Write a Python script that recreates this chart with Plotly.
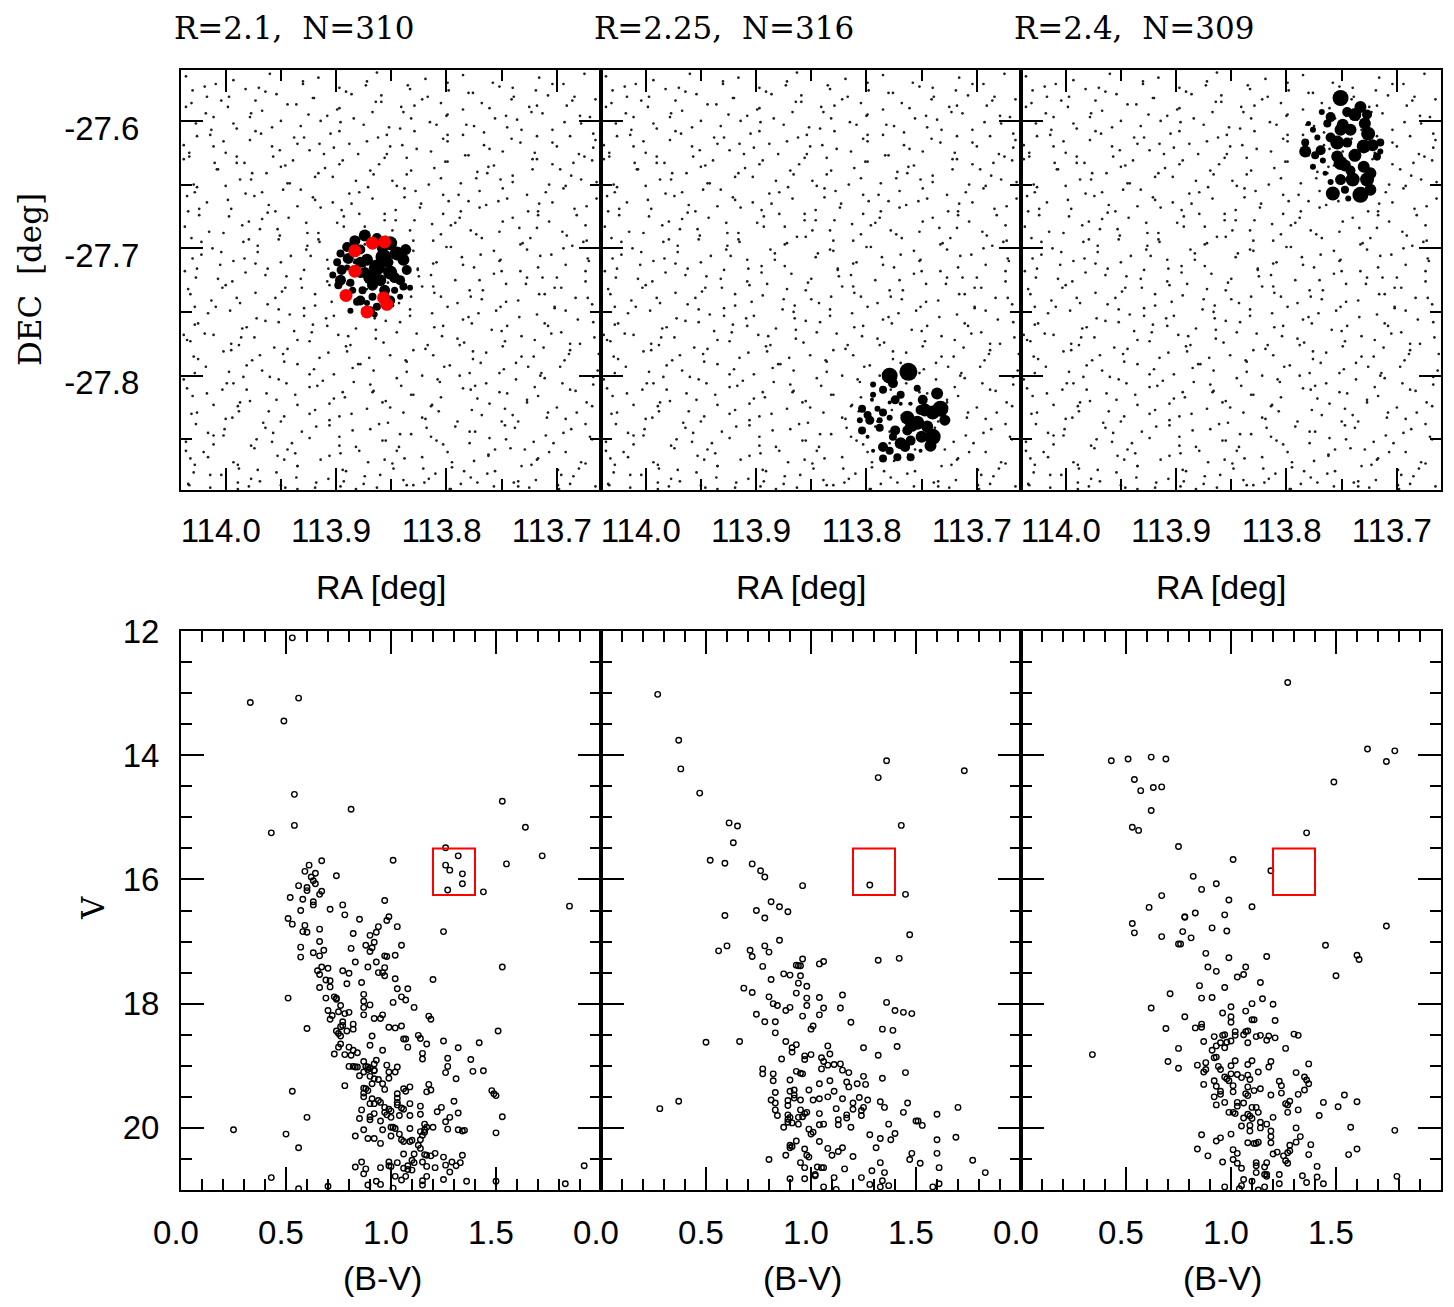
import plotly.graph_objects as go

# ---------------- data ----------------
panel_titles = ["R=2.1,  N=310", "R=2.25,  N=316", "R=2.4,  N=309"]
ra_ticks = [114.0, 113.9, 113.8, 113.7]
dec_ticks = [-27.6, -27.7, -27.8]
bv_ticks = [0.0, 0.5, 1.0, 1.5]
v_ticks = [12, 14, 16, 18, 20]
ra_range = [114.0405, 113.660]
dec_range = [-27.8898, -27.560]
bv_range = [0.0, 2.0]
v_range = [21.0, 12.0]
box_bv = [1.2, 1.4]
box_v = [15.5, 16.25]

# field stars (same field in the three top panels), rows of RA / DEC
field_ra_rows = [
 [114.036,114.019,113.993,113.982,113.960,113.930,113.916,113.897,113.872,113.863,113.835,113.819,113.798,113.785,113.758,113.740,113.716,113.704,113.675],
 [114.031,114.017,113.998,113.973,113.964,113.936,113.920,113.899,113.886,113.859,113.841,113.817,113.805,113.776,113.761,113.741,113.718,113.708,113.691,113.665],
 [114.027,114.011,113.990,113.977,113.950,113.932,113.908,113.896,113.867,113.852,113.832,113.809,113.799,113.782,113.756,113.745,113.723,113.693,113.679],
 [114.038,114.014,114.002,113.973,113.958,113.938,113.915,113.905,113.888,113.862,113.851,113.829,113.799,113.785,113.766,113.741,113.732,113.704,113.688,113.667],
 [114.033,114.010,114.000,113.983,113.957,113.946,113.924,113.894,113.880,113.861,113.836,113.827,113.799,113.783,113.762,113.749,113.722,113.704,113.680,113.668],
 [114.029,114.007,113.977,113.963,113.944,113.919,113.910,113.882,113.866,113.845,113.832,113.805,113.787,113.763,113.751,113.722,113.707,113.687,113.664],
 [114.035,114.026,113.998,113.982,113.961,113.948,113.921,113.903,113.879,113.867,113.838,113.823,113.803,113.780,113.770,113.753,113.727,113.716,113.694,113.664],
 [114.024,113.997,113.979,113.955,113.943,113.914,113.899,113.879,113.856,113.846,113.829,113.803,113.792,113.770,113.740,113.726,113.707,113.682,113.673],
 [114.037,114.022,114.002,113.979,113.969,113.952,113.926,113.915,113.893,113.863,113.849,113.830,113.805,113.796,113.768,113.752,113.731,113.718,113.691,113.673],
 [114.030,114.004,113.993,113.971,113.941,113.927,113.908,113.883,113.874,113.846,113.830,113.809,113.796,113.769,113.751,113.727,113.715,113.686,113.671],
 [114.026,114.007,113.982,113.973,113.945,113.929,113.908,113.895,113.868,113.850,113.826,113.814,113.785,113.770,113.750,113.727,113.717,113.700,113.674],
 [114.034,114.013,114.000,113.973,113.955,113.931,113.919,113.890,113.875,113.855,113.832,113.822,113.805,113.779,113.768,113.746,113.716,113.702,113.683],
 [114.028,114.016,113.987,113.972,113.952,113.929,113.919,113.902,113.876,113.865,113.843,113.813,113.799,113.780,113.755,113.746,113.718,113.702,113.681,113.668],
 [114.038,114.028,114.011,113.985,113.974,113.952,113.922,113.908,113.889,113.864,113.855,113.827,113.811,113.790,113.777,113.750,113.732,113.708,113.696,113.667],
 [114.032,114.002,113.988,113.969,113.944,113.935,113.907,113.891,113.870,113.857,113.830,113.812,113.788,113.776,113.747,113.732,113.712,113.689,113.679,113.662],
 [114.025,113.997,113.981,113.960,113.947,113.920,113.902,113.878,113.866,113.837,113.822,113.802,113.779,113.769,113.752,113.726,113.715,113.693,113.663],
 [114.035,114.017,113.993,113.981,113.952,113.937,113.917,113.894,113.884,113.867,113.841,113.830,113.808,113.778,113.764,113.745,113.720,113.711,113.683,113.667],
 [114.031,114.011,113.988,113.978,113.961,113.935,113.924,113.902,113.872,113.858,113.839,113.814,113.805,113.777,113.761,113.740,113.727,113.700,113.682],
 [114.027,114.016,113.994,113.964,113.950,113.931,113.906,113.897,113.869,113.853,113.832,113.819,113.792,113.774,113.750,113.738,113.709,113.694,113.674],
 [114.036,114.011,114.002,113.974,113.958,113.937,113.924,113.897,113.879,113.855,113.843,113.814,113.799,113.779,113.756,113.746,113.729,113.703,113.692,113.670],
 [114.029,114.016,113.989,113.971,113.947,113.935,113.906,113.891,113.871,113.848,113.838,113.821,113.795,113.784,113.762,113.732,113.718,113.699,113.674],
 [114.033,114.004,113.989,113.969,113.946,113.936,113.919,113.893,113.882,113.860,113.830,113.816,113.797,113.772,113.763,113.735,113.719,113.698,113.685],
 [114.030,114.009,113.997,113.970,113.954,113.930,113.921,113.891,113.873,113.859,113.833,113.822,113.799,113.780,113.752,113.739,113.719,113.694,113.684],
 [114.036,114.018,114.004,113.978,113.967,113.944,113.925,113.897,113.884,113.864,113.839,113.829,113.800,113.785,113.768,113.746,113.725,113.713,113.686,113.670],
 [114.026,114.013,113.993,113.968,113.958,113.929,113.914,113.897,113.875,113.854,113.842,113.815,113.799,113.775,113.766,113.736,113.718,113.704,113.678,113.667],
 [114.033,114.011,113.990,113.978,113.951,113.935,113.911,113.902,113.872,113.854,113.840,113.814,113.803,113.780,113.761,113.733,113.720,113.700,113.675,113.665],
 [114.038,114.008,113.990,113.976,113.950,113.939,113.916,113.897,113.869,113.856,113.836,113.811,113.801,113.772,113.757,113.740,113.718,113.697,113.685],
 [114.028,114.000,113.987,113.967,113.942,113.932,113.903,113.888,113.871,113.849,113.828,113.816,113.789,113.773,113.749,113.740,113.710,113.692,113.678],
 [114.034,114.017,113.995,113.974,113.962,113.935,113.919,113.895,113.886,113.856,113.838,113.824,113.798,113.787,113.764,113.745,113.717,113.704,113.684],
 [114.024,114.015,113.985,113.967,113.953,113.927,113.916,113.893,113.874,113.846,113.833,113.813,113.788,113.778,113.749,113.734,113.717,113.695,113.674],
 [114.031,114.012,113.984,113.971,113.951,113.926,113.916,113.887,113.872,113.855,113.833,113.812,113.800,113.773,113.757,113.733,113.724,113.694,113.676],
 [114.037,114.022,114.005,113.983,113.962,113.950,113.923,113.907,113.883,113.874,113.844,113.826,113.812,113.786,113.775,113.752,113.733,113.705,113.692,113.672],
 [114.027,114.003,113.994,113.964,113.946,113.932,113.906,113.895,113.872,113.853,113.825,113.812,113.792,113.767,113.757,113.728,113.713,113.696,113.674],
 [114.032,114.009,113.990,113.962,113.949,113.929,113.904,113.894,113.865,113.850,113.833,113.811,113.790,113.778,113.751,113.735,113.711,113.702,113.672],
 [114.025,113.996,113.981,113.964,113.942,113.921,113.909,113.882,113.866,113.842,113.833,113.803,113.785,113.771,113.745,113.734,113.711,113.692],
 [114.035,114.019,113.995,113.986,113.956,113.938,113.924,113.898,113.887,113.864,113.845,113.817,113.804,113.784,113.759,113.749,113.720,113.705,113.688,113.666],
 [114.029,114.018,113.995,113.976,113.948,113.935,113.915,113.890,113.880,113.851,113.836,113.819,113.797,113.776,113.764,113.737,113.721,113.697,113.688],
 [114.038,114.028,113.999,113.984,113.967,113.945,113.924,113.912,113.885,113.869,113.845,113.836,113.806,113.788,113.774,113.748,113.737,113.714,113.695,113.667],
 [114.030,114.003,113.987,113.963,113.954,113.924,113.906,113.892,113.866,113.855,113.832,113.813,113.785,113.772,113.752,113.727,113.717,113.688,113.673],
 [114.026,114.000,113.989,113.966,113.947,113.919,113.906,113.886,113.861,113.851,113.822,113.807,113.790,113.768,113.747,113.735,113.708,113.692,113.668],
 [114.036,114.011,114.001,113.972,113.957,113.940,113.918,113.897,113.885,113.858,113.842,113.818,113.809,113.779,113.761,113.747,113.721,113.710,113.687,113.668],
 [114.032,114.020,113.993,113.977,113.953,113.944,113.914,113.896,113.882,113.856,113.845,113.822,113.803,113.775,113.762,113.742,113.717,113.707,113.678],
 [114.028,114.014,113.988,113.977,113.954,113.935,113.907,113.894,113.874,113.849,113.839,113.810,113.795,113.778,113.756,113.735,113.723,113.696,113.680],
 [114.034,114.014,113.989,113.979,113.950,113.935,113.918,113.896,113.875,113.863,113.836,113.820,113.796,113.787,113.757,113.739,113.725,113.699,113.688,113.665],
]
field_dec_rows = [
 [-27.565,-27.573,-27.568,-27.575,-27.563,-27.571,-27.566,-27.574,-27.569,-27.562,-27.572,-27.567,-27.576,-27.564,-27.570,-27.574,-27.566,-27.571,-27.563],
 [-27.586,-27.581,-27.589,-27.584,-27.577,-27.587,-27.582,-27.591,-27.579,-27.585,-27.589,-27.581,-27.586,-27.578,-27.590,-27.583,-27.588,-27.580,-27.588,-27.583],
 [-27.602,-27.597,-27.606,-27.594,-27.600,-27.604,-27.596,-27.601,-27.593,-27.605,-27.598,-27.603,-27.595,-27.603,-27.598,-27.605,-27.593,-27.601,-27.596],
 [-27.619,-27.611,-27.616,-27.608,-27.620,-27.613,-27.618,-27.610,-27.618,-27.613,-27.620,-27.608,-27.616,-27.611,-27.619,-27.614,-27.607,-27.617,-27.612,-27.621],
 [-27.628,-27.633,-27.625,-27.633,-27.628,-27.635,-27.623,-27.631,-27.626,-27.634,-27.629,-27.622,-27.632,-27.627,-27.636,-27.624,-27.630,-27.634,-27.626,-27.631],
 [-27.650,-27.638,-27.646,-27.641,-27.649,-27.644,-27.637,-27.647,-27.642,-27.651,-27.639,-27.645,-27.649,-27.641,-27.646,-27.638,-27.650,-27.643,-27.648],
 [-27.659,-27.652,-27.662,-27.657,-27.666,-27.654,-27.660,-27.664,-27.656,-27.661,-27.653,-27.665,-27.658,-27.663,-27.655,-27.663,-27.658,-27.665,-27.653,-27.661],
 [-27.669,-27.675,-27.679,-27.671,-27.676,-27.668,-27.680,-27.673,-27.678,-27.670,-27.678,-27.673,-27.680,-27.668,-27.676,-27.671,-27.679,-27.674,-27.667],
 [-27.683,-27.695,-27.688,-27.693,-27.685,-27.693,-27.688,-27.695,-27.683,-27.691,-27.686,-27.694,-27.689,-27.682,-27.692,-27.687,-27.696,-27.684,-27.690,-27.694],
 [-27.708,-27.703,-27.710,-27.698,-27.706,-27.701,-27.709,-27.704,-27.697,-27.707,-27.702,-27.711,-27.699,-27.705,-27.709,-27.701,-27.706,-27.698,-27.710],
 [-27.716,-27.724,-27.719,-27.712,-27.722,-27.717,-27.726,-27.714,-27.720,-27.724,-27.716,-27.721,-27.713,-27.725,-27.718,-27.723,-27.715,-27.723,-27.718],
 [-27.732,-27.741,-27.729,-27.735,-27.739,-27.731,-27.736,-27.728,-27.740,-27.733,-27.738,-27.730,-27.738,-27.733,-27.740,-27.728,-27.736,-27.731,-27.739],
 [-27.746,-27.751,-27.743,-27.755,-27.748,-27.753,-27.745,-27.753,-27.748,-27.755,-27.743,-27.751,-27.746,-27.754,-27.749,-27.742,-27.752,-27.747,-27.756,-27.744],
 [-27.768,-27.760,-27.768,-27.763,-27.770,-27.758,-27.766,-27.761,-27.769,-27.764,-27.757,-27.767,-27.762,-27.771,-27.759,-27.765,-27.769,-27.761,-27.766,-27.758],
 [-27.773,-27.781,-27.776,-27.784,-27.779,-27.772,-27.782,-27.777,-27.786,-27.774,-27.780,-27.784,-27.776,-27.781,-27.773,-27.785,-27.778,-27.783,-27.775,-27.783],
 [-27.787,-27.797,-27.792,-27.801,-27.789,-27.795,-27.799,-27.791,-27.796,-27.788,-27.800,-27.793,-27.798,-27.790,-27.798,-27.793,-27.800,-27.788,-27.796],
 [-27.810,-27.814,-27.806,-27.811,-27.803,-27.815,-27.808,-27.813,-27.805,-27.813,-27.808,-27.815,-27.803,-27.811,-27.806,-27.814,-27.809,-27.802,-27.812,-27.807],
 [-27.830,-27.823,-27.828,-27.820,-27.828,-27.823,-27.830,-27.818,-27.826,-27.821,-27.829,-27.824,-27.817,-27.827,-27.822,-27.831,-27.819,-27.825,-27.829],
 [-27.838,-27.845,-27.833,-27.841,-27.836,-27.844,-27.839,-27.832,-27.842,-27.837,-27.846,-27.834,-27.840,-27.844,-27.836,-27.841,-27.833,-27.845,-27.838],
 [-27.859,-27.854,-27.847,-27.857,-27.852,-27.861,-27.849,-27.855,-27.859,-27.851,-27.856,-27.848,-27.860,-27.853,-27.858,-27.850,-27.858,-27.853,-27.860,-27.848],
 [-27.876,-27.864,-27.870,-27.874,-27.866,-27.871,-27.863,-27.875,-27.868,-27.873,-27.865,-27.873,-27.868,-27.875,-27.863,-27.871,-27.866,-27.874,-27.869],
 [-27.886,-27.878,-27.889,-27.883,-27.888,-27.880,-27.888,-27.883,-27.889,-27.878,-27.886,-27.881,-27.889,-27.884,-27.877,-27.887,-27.882,-27.889,-27.879],
 [-27.576,-27.571,-27.581,-27.574,-27.579,-27.569,-27.582,-27.577,-27.572,-27.580,-27.575,-27.583,-27.570,-27.578,-27.573,-27.581,-27.576,-27.571,-27.581],
 [-27.589,-27.594,-27.584,-27.597,-27.592,-27.587,-27.595,-27.590,-27.598,-27.585,-27.593,-27.588,-27.596,-27.591,-27.586,-27.596,-27.589,-27.594,-27.584,-27.597],
 [-27.612,-27.607,-27.602,-27.610,-27.605,-27.613,-27.600,-27.608,-27.603,-27.611,-27.606,-27.601,-27.611,-27.604,-27.609,-27.599,-27.612,-27.607,-27.602,-27.610],
 [-27.625,-27.620,-27.628,-27.615,-27.623,-27.618,-27.626,-27.621,-27.616,-27.626,-27.619,-27.624,-27.614,-27.627,-27.622,-27.617,-27.625,-27.620,-27.628,-27.615],
 [-27.630,-27.638,-27.633,-27.641,-27.636,-27.631,-27.641,-27.634,-27.639,-27.629,-27.642,-27.637,-27.632,-27.640,-27.635,-27.643,-27.630,-27.638,-27.633],
 [-27.656,-27.651,-27.646,-27.656,-27.649,-27.654,-27.644,-27.657,-27.652,-27.647,-27.655,-27.650,-27.658,-27.645,-27.653,-27.648,-27.656,-27.651,-27.646],
 [-27.671,-27.664,-27.669,-27.659,-27.672,-27.667,-27.662,-27.670,-27.665,-27.673,-27.660,-27.668,-27.663,-27.671,-27.666,-27.661,-27.671,-27.664,-27.669],
 [-27.674,-27.687,-27.682,-27.677,-27.685,-27.680,-27.688,-27.675,-27.683,-27.678,-27.686,-27.681,-27.676,-27.686,-27.679,-27.684,-27.674,-27.687,-27.682],
 [-27.692,-27.700,-27.695,-27.703,-27.690,-27.698,-27.693,-27.701,-27.696,-27.691,-27.701,-27.694,-27.699,-27.689,-27.702,-27.697,-27.692,-27.700,-27.695],
 [-27.718,-27.705,-27.713,-27.708,-27.716,-27.711,-27.706,-27.716,-27.709,-27.714,-27.704,-27.717,-27.712,-27.707,-27.715,-27.710,-27.718,-27.705,-27.713,-27.708],
 [-27.723,-27.731,-27.726,-27.721,-27.731,-27.724,-27.729,-27.719,-27.732,-27.727,-27.722,-27.730,-27.725,-27.733,-27.720,-27.728,-27.723,-27.731,-27.726],
 [-27.736,-27.746,-27.739,-27.744,-27.734,-27.747,-27.742,-27.737,-27.745,-27.740,-27.748,-27.735,-27.743,-27.738,-27.746,-27.741,-27.736,-27.746,-27.739],
 [-27.759,-27.749,-27.762,-27.757,-27.752,-27.760,-27.755,-27.763,-27.750,-27.758,-27.753,-27.761,-27.756,-27.751,-27.761,-27.754,-27.759,-27.749],
 [-27.772,-27.767,-27.775,-27.770,-27.778,-27.765,-27.773,-27.768,-27.776,-27.771,-27.766,-27.776,-27.769,-27.774,-27.764,-27.777,-27.772,-27.767,-27.775,-27.770],
 [-27.785,-27.793,-27.780,-27.788,-27.783,-27.791,-27.786,-27.781,-27.791,-27.784,-27.789,-27.779,-27.792,-27.787,-27.782,-27.790,-27.785,-27.793,-27.780],
 [-27.803,-27.798,-27.806,-27.801,-27.796,-27.806,-27.799,-27.804,-27.794,-27.807,-27.802,-27.797,-27.805,-27.800,-27.808,-27.795,-27.803,-27.798,-27.806,-27.801],
 [-27.816,-27.811,-27.821,-27.814,-27.819,-27.809,-27.822,-27.817,-27.812,-27.820,-27.815,-27.823,-27.810,-27.818,-27.813,-27.821,-27.816,-27.811,-27.821],
 [-27.829,-27.834,-27.824,-27.837,-27.832,-27.827,-27.835,-27.830,-27.838,-27.825,-27.833,-27.828,-27.836,-27.831,-27.826,-27.836,-27.829,-27.834,-27.824],
 [-27.852,-27.847,-27.842,-27.850,-27.845,-27.853,-27.840,-27.848,-27.843,-27.851,-27.846,-27.841,-27.851,-27.844,-27.849,-27.839,-27.852,-27.847,-27.842,-27.850],
 [-27.865,-27.860,-27.868,-27.855,-27.863,-27.858,-27.866,-27.861,-27.856,-27.866,-27.859,-27.864,-27.854,-27.867,-27.862,-27.857,-27.865,-27.860,-27.868],
 [-27.870,-27.878,-27.873,-27.881,-27.876,-27.871,-27.881,-27.874,-27.879,-27.869,-27.882,-27.877,-27.872,-27.880,-27.875,-27.883,-27.870,-27.878,-27.873],
 [-27.885,-27.888,-27.884,-27.887,-27.886,-27.889,-27.884,-27.887,-27.885,-27.888,-27.886,-27.884,-27.889,-27.885,-27.887,-27.884,-27.888,-27.886,-27.885,-27.887],
]

# cluster members: (RA, DEC, V magnitude)
cluster1 = [
 (113.874,-27.690,15.5),(113.863,-27.692,16.5),(113.851,-27.696,14.5),(113.845,-27.704,14.5),
 (113.839,-27.709,15.5),(113.836,-27.717,16.5),(113.842,-27.725,16.5),(113.839,-27.730,17.5),
 (113.857,-27.707,13.5),(113.863,-27.715,13.5),(113.872,-27.709,15.5),(113.869,-27.723,14.5),
 (113.860,-27.725,15.5),(113.851,-27.719,14.5),(113.878,-27.701,16.5),(113.890,-27.699,16.5),
 (113.896,-27.704,17.5),(113.899,-27.711,17.5),(113.895,-27.717,16.5),(113.903,-27.721,18.0),
 (113.898,-27.729,17.5),(113.887,-27.727,17.5),(113.885,-27.733,18.0),(113.876,-27.733,17.5),
 (113.881,-27.742,17.5),(113.867,-27.738,17.5),(113.863,-27.746,17.5),(113.872,-27.743,18.5),
 (113.865,-27.752,18.5),(113.887,-27.749,18.5),(113.890,-27.715,18.5),(113.878,-27.721,18.5),
 (113.842,-27.738,18.5),(113.833,-27.731,18.5),(113.847,-27.733,18.0),(113.856,-27.717,19.5),
 (113.883,-27.711,19.5),(113.849,-27.745,19.5),
 (113.883,-27.694,16.0),(113.853,-27.711,16.0),(113.847,-27.723,16.0),(113.867,-27.729,16.0),
 (113.878,-27.711,16.0),(113.889,-27.708,16.0),(113.856,-27.733,16.0),(113.874,-27.719,16.0),
 (113.858,-27.700,16.0),(113.837,-27.701,16.0),(113.896,-27.725,16.0),(113.878,-27.741,16.5),
 (113.851,-27.741,16.5),(113.869,-27.749,17.0),
]
red_clump1 = [
 (113.883,-27.702),(113.867,-27.696),(113.856,-27.695),(113.883,-27.718),
 (113.891,-27.737),(113.857,-27.739),(113.854,-27.744),(113.872,-27.750),
]
cluster2 = [
 (113.779,-27.800,13.5),(113.762,-27.797,12.5),(113.776,-27.806,16.5),(113.794,-27.807,18.5),
 (113.785,-27.811,17.5),(113.769,-27.815,17.5),(113.754,-27.810,18.0),(113.794,-27.815,18.5),
 (113.736,-27.814,15.5),(113.749,-27.819,16.5),(113.733,-27.826,13.5),(113.740,-27.829,14.5),
 (113.751,-27.827,16.5),(113.763,-27.833,14.5),(113.754,-27.837,14.5),(113.745,-27.840,15.5),
 (113.740,-27.848,13.5),(113.750,-27.848,15.5),(113.763,-27.843,16.5),(113.804,-27.826,17.5),
 (113.799,-27.831,17.5),(113.806,-27.835,18.5),(113.790,-27.826,18.5),(113.785,-27.829,17.5),
 (113.779,-27.833,18.5),(113.788,-27.835,18.5),(113.804,-27.843,17.5),(113.788,-27.841,17.5),
 (113.776,-27.848,17.5),(113.769,-27.853,15.5),(113.760,-27.851,16.5),(113.785,-27.856,16.5),
 (113.779,-27.859,17.5),(113.785,-27.865,17.5),(113.772,-27.864,17.5),(113.760,-27.864,17.5),
 (113.779,-27.821,19.5),(113.769,-27.822,19.5),(113.760,-27.822,19.5),(113.795,-27.819,19.5),
 (113.799,-27.848,19.5),(113.794,-27.859,19.5),(113.751,-27.859,19.5),
 (113.747,-27.827,15.0),(113.759,-27.839,15.0),(113.742,-27.855,15.5),(113.774,-27.819,17.0),
 (113.797,-27.835,17.0),(113.774,-27.843,16.5),(113.765,-27.856,16.5),(113.729,-27.835,16.0),
]
cluster3 = [
 (113.751,-27.582,13.5),(113.733,-27.589,15.5),(113.727,-27.595,16.5),(113.745,-27.593,16.5),
 (113.760,-27.597,16.5),(113.768,-27.593,18.5),(113.763,-27.602,17.5),(113.749,-27.603,15.5),
 (113.742,-27.607,15.5),(113.729,-27.602,15.5),(113.726,-27.610,14.5),(113.730,-27.620,14.5),
 (113.715,-27.617,17.5),(113.776,-27.607,18.5),(113.780,-27.602,19.0),(113.783,-27.617,17.5),
 (113.772,-27.613,18.5),(113.760,-27.613,16.5),(113.754,-27.617,14.5),(113.745,-27.617,16.5),
 (113.754,-27.628,15.5),(113.783,-27.624,15.5),(113.774,-27.627,17.5),(113.767,-27.631,18.5),
 (113.751,-27.633,14.5),(113.742,-27.639,16.5),(113.730,-27.636,15.5),(113.724,-27.641,15.5),
 (113.740,-27.646,14.5),(113.727,-27.646,14.5),(113.758,-27.657,14.5),(113.733,-27.658,13.5),
 (113.747,-27.654,17.5),(113.776,-27.636,18.5),(113.765,-27.641,19.0),(113.760,-27.648,18.5),
 (113.744,-27.661,18.5),(113.718,-27.628,17.5),(113.715,-27.624,18.5),
 (113.738,-27.595,15.0),(113.751,-27.607,15.5),(113.738,-27.627,15.0),(113.747,-27.635,15.5),
 (113.769,-27.623,16.5),(113.724,-27.654,15.5),(113.751,-27.646,16.0),(113.722,-27.619,15.5),
]

# colour-magnitude diagrams: (B-V, V)
cmd1 = [
 (0.53,12.11),(0.33,13.15),(0.56,13.08),(0.49,13.45),(0.54,14.63),(0.81,14.87),(0.54,15.13),(0.43,15.25),(1.53,14.74),(1.64,15.16),(1.72,15.62),(1.55,15.75),(1.85,16.43),(1.44,16.20),(1.01,15.69),(1.26,15.49),(1.32,15.62),(1.26,15.77),(1.28,15.85),(1.34,15.91),(1.34,16.07),(1.27,16.17),(1.25,16.84),(1.53,17.41),(1.20,17.61),
 (0.67,15.70),(0.61,15.77),(0.59,15.87),(0.64,15.90),(0.62,15.96),(0.63,16.02),(0.64,16.07),(0.74,15.94),(0.56,16.10),(0.60,16.13),(0.60,16.18),(0.67,16.19),(0.66,16.24),(0.52,16.29),(0.58,16.32),(0.63,16.36),(0.63,16.41),(0.57,16.50),(0.71,16.48),(0.77,16.41),(0.78,16.57),(0.51,16.63),(0.53,16.72),(0.59,16.74),(0.58,16.84),(0.60,16.85),(0.66,16.80),(0.66,17.00),(0.57,17.09),(0.63,17.18),(0.68,17.14),(0.57,17.25),(0.66,17.23),(0.65,17.47),(0.66,17.53),(0.67,17.41),(0.70,17.43),(0.69,17.62),(0.71,17.63),(0.71,17.73),(0.66,17.74),(0.51,17.91),(0.60,18.40),
 (0.97,16.34),(0.99,16.60),(0.98,16.66),(0.85,16.64),(0.94,16.76),(1.03,16.76),(0.82,16.87),(0.93,16.85),(0.90,16.90),(0.92,17.01),(0.88,17.06),(0.91,17.10),(0.90,17.16),(1.05,17.06),(0.81,17.11),(0.97,17.23),(0.98,17.24),(1.02,17.22),(0.83,17.33),(0.93,17.33),(0.89,17.41),(0.77,17.47),(0.80,17.51),(0.94,17.50),(0.96,17.50),(0.97,17.42),(0.97,17.55),(1.02,17.60),(1.08,17.76),(1.03,17.76),(0.86,17.66),(0.79,17.68),(0.87,17.85),(1.05,17.89),(1.07,17.94),(0.87,17.96),(0.90,18.02),(0.87,18.06),(1.01,17.98),(1.11,18.06),(0.69,17.91),(0.73,17.89),(0.74,17.91),(0.74,17.93),(0.70,18.11),(0.76,18.03),(0.75,18.13),(0.78,18.16),(0.80,18.14),(0.87,18.18),(0.72,18.19),(0.71,18.25),(0.77,18.29),(0.77,18.35),(0.76,18.37),(0.82,18.33),(0.82,18.41),(0.92,18.24),(0.95,18.24),(0.96,18.18),(1.18,18.20),(1.19,18.25),(0.99,18.38),(1.02,18.39),(1.05,18.36),(0.79,18.44),(0.74,18.44),(0.75,18.48),(0.76,18.52),
 (0.91,18.52),(1.06,18.57),(1.07,18.57),(1.13,18.51),(1.14,18.56),(1.17,18.65),(1.25,18.60),(1.32,18.71),(1.42,18.63),(1.51,18.44),(0.76,18.65),(0.75,18.70),(0.80,18.70),(0.73,18.81),(0.78,18.82),(0.82,18.75),(0.81,18.83),(0.84,18.79),(0.90,18.67),(0.96,18.75),(1.08,18.70),(1.15,18.80),(1.15,18.89),(1.27,18.88),(1.38,18.90),(1.27,19.01),(1.44,19.08),(1.39,19.09),(1.26,19.11),(1.31,19.21),(0.87,18.93),(0.93,18.91),(0.92,18.97),(0.80,19.01),(0.82,19.01),(0.83,19.02),(0.84,19.02),(0.88,19.01),(0.89,19.02),(0.90,19.04),(0.89,19.06),(0.87,19.10),(0.92,19.08),(0.92,19.07),(0.85,19.16),(0.98,18.99),(1.03,19.02),(0.99,19.10),(1.02,19.10),(0.90,19.17),(0.92,19.21),(0.94,19.22),(0.99,19.20),(0.78,19.32),(0.91,19.29),(0.96,19.29),(0.87,19.36),(0.88,19.37),(0.89,19.40),(0.97,19.38),(1.06,19.37),(1.09,19.34),(1.07,19.41),(1.18,19.30),(1.19,19.39),(1.17,19.42),(1.03,19.45),(1.03,19.52),(0.87,19.44),(0.87,19.50),(0.91,19.53),(0.94,19.56),(0.95,19.59),(0.90,19.61),(0.92,19.61),(1.03,19.59),(1.03,19.63),(0.97,19.67),(0.99,19.70),(1.00,19.73),(0.86,19.71),(0.85,19.85),(0.90,19.82),(0.90,19.87),(0.92,19.77),(0.97,19.75),(0.98,19.79),(1.04,19.80),(1.00,19.83),(0.95,19.89),(1.05,19.68),(1.06,19.70),(1.09,19.61),(1.09,19.80),(1.14,19.65),(1.14,19.78),(1.22,19.74),(1.24,19.67),(1.30,19.57),(1.32,19.76),(1.28,19.83),(1.26,19.90),(1.53,19.82),(1.48,19.40),(1.49,19.45),(1.50,19.48),
 (1.00,19.99),(1.01,19.99),(1.02,20.01),(0.87,20.03),(0.96,20.03),(1.09,20.01),(1.16,19.94),(1.17,19.99),(1.16,20.03),(1.14,20.06),(1.16,20.07),(1.15,20.12),(1.20,19.99),(1.27,20.02),(1.32,20.03),(1.34,20.05),(1.35,20.04),(1.50,20.08),(0.83,20.13),(0.89,20.17),(0.92,20.17),(0.95,20.25),(1.00,20.13),(1.04,20.10),(1.05,20.19),(1.06,20.22),(1.09,20.22),(1.10,20.20),(1.14,20.19),(1.13,20.28),(1.14,20.33),(0.25,20.03),(0.50,20.10),(0.56,20.32),(0.53,19.41),(0.60,19.83),
 (1.06,20.42),(1.11,20.42),(1.16,20.43),(1.17,20.44),(1.19,20.45),(1.21,20.41),(1.10,20.52),(1.25,20.47),(1.34,20.44),(1.33,20.56),(1.29,20.55),(1.31,20.61),(1.26,20.60),(0.86,20.55),(0.83,20.63),(0.88,20.66),(0.87,20.74),(0.95,20.64),(0.99,20.55),(0.99,20.61),(1.00,20.62),(1.03,20.56),(1.06,20.65),(1.08,20.61),(1.08,20.67),(1.11,20.56),(1.15,20.55),(1.17,20.62),(1.21,20.64),(1.28,20.71),(1.92,20.61),(0.43,20.80),(0.56,20.98),(0.70,20.94),(0.89,20.92),(0.93,20.86),(0.95,20.91),(1.02,20.78),(1.05,20.84),(1.07,20.78),(1.10,20.68),(1.15,20.85),(1.15,20.92),(1.17,20.78),(1.25,20.83),(1.36,20.86),(1.50,20.86),(1.83,20.90),(1.01,20.97),
]
cmd2 = [
 (0.27,13.02),(0.37,13.76),(0.38,14.22),(0.47,14.61),(0.61,15.09),(0.65,15.14),(0.63,15.41),(0.52,15.69),(0.59,15.74),(0.72,15.75),(0.76,15.86),(0.78,15.96),(0.96,16.10),(1.36,14.09),(1.32,14.36),(1.73,14.25),(1.43,15.13),(1.28,16.09),(1.45,16.24),(1.47,16.89),(1.32,17.30),(1.42,17.27),(0.81,16.36),(0.85,16.44),(0.89,16.52),(0.74,16.50),(0.59,16.58),(0.78,16.62),(0.85,16.98),(0.60,17.07),(0.56,17.15),(0.71,17.14),(0.72,17.24),(0.78,17.07),(0.80,17.17),(0.77,17.40),(0.96,17.28),(0.93,17.38),(0.94,17.39),(0.95,17.39),(0.95,17.55),(0.87,17.52),(0.90,17.54),(1.04,17.36),(1.06,17.32),(0.81,17.61),(0.94,17.67),(0.98,17.72),(0.68,17.75),(0.72,17.82),(0.93,17.83),(0.80,17.89),(0.82,18.00),(0.84,18.03),(0.98,17.91),(1.04,17.90),(1.15,17.86),(0.90,18.06),(0.88,18.11),(0.98,18.03),(1.06,18.07),(1.14,18.07),(0.96,18.20),(1.04,18.18),(0.74,18.17),(0.78,18.29),(0.83,18.29),(0.83,18.47),(1.00,18.41),(1.01,18.36),(1.19,18.30),(1.36,17.98),(1.40,18.11),(1.44,18.14),(1.48,18.16),(1.34,18.41),(1.39,18.43),
 (0.50,18.62),(0.66,18.61),(0.88,18.61),(0.93,18.66),(0.91,18.71),(0.91,18.78),(1.00,18.82),(0.86,18.89),(0.97,18.84),(0.97,18.90),(1.05,18.87),(1.06,18.93),(1.08,18.99),(1.09,18.81),(1.08,18.68),(1.25,18.71),(1.32,18.83),(1.41,18.69),(1.05,19.05),(1.11,18.98),(1.14,18.97),(1.15,19.07),(0.77,19.05),(0.77,19.13),(0.82,19.13),(0.82,19.24),(0.93,19.09),(0.95,19.12),(0.96,19.13),(0.90,19.23),(1.18,19.11),(1.25,19.17),(1.34,19.20),(1.45,19.11),(1.04,19.29),(1.09,19.24),(1.17,19.26),(1.18,19.34),(1.22,19.29),(1.26,19.30),(0.83,19.43),(0.90,19.41),(0.92,19.39),(0.92,19.47),(0.92,19.52),(0.99,19.39),(1.11,19.41),(0.81,19.55),(0.83,19.60),(0.89,19.56),(0.95,19.55),(1.01,19.55),(1.04,19.53),(1.08,19.50),(1.15,19.53),(1.20,19.60),(1.23,19.51),(1.27,19.55),(1.33,19.58),(1.46,19.60),(0.37,19.57),(0.28,19.69),(0.89,19.64),(0.83,19.71),(0.84,19.80),(0.95,19.71),(0.98,19.75),(0.97,19.77),(0.94,19.83),(0.96,19.82),(0.89,19.79),(0.90,19.83),(0.89,19.91),(0.89,19.86),(1.04,19.77),(1.12,19.69),(1.25,19.67),(1.24,19.72),(1.20,19.70),(1.35,19.67),(1.13,19.87),(1.13,19.95),(1.17,19.79),(1.17,19.84),(1.24,19.80),(1.44,19.75),(1.60,19.78),(1.70,19.67),(1.50,19.89),(1.51,19.89),(1.53,19.96),
 (0.87,19.99),(0.91,19.92),(0.94,19.94),(0.99,20.02),(1.00,20.10),(1.01,20.07),(1.04,19.95),(1.06,19.94),(1.19,19.99),(1.37,19.94),(1.28,20.11),(1.33,20.17),(1.38,20.19),(1.40,20.09),(1.60,20.19),(1.69,20.15),(0.93,20.21),(0.90,20.28),(0.91,20.30),(0.90,20.32),(0.97,20.34),(1.04,20.22),(1.08,20.33),(1.15,20.32),(1.13,20.38),(1.10,20.44),(0.98,20.44),(0.99,20.47),(0.88,20.44),(0.80,20.51),(1.20,20.46),(1.31,20.32),(1.48,20.41),(1.47,20.51),(1.52,20.57),(1.60,20.41),(1.77,20.52),(0.95,20.56),(0.97,20.64),(1.03,20.63),(1.05,20.64),(1.06,20.64),(1.16,20.66),(1.33,20.56),(1.29,20.69),(1.35,20.72),(1.61,20.64),(1.83,20.72),(1.02,20.75),(1.02,20.77),(1.11,20.80),(1.24,20.80),(0.90,20.82),(0.97,20.82),(1.34,20.85),(1.28,20.91),(1.33,20.95),(1.37,20.93),(1.06,20.95),(1.12,20.99),(1.58,20.95),(1.61,20.90),
]
cmd3 = [
 (1.27,12.83),(0.43,14.09),(0.51,14.06),(0.62,14.03),(0.69,14.06),(0.54,14.39),(0.57,14.57),(0.63,14.52),(0.67,14.51),(0.62,14.89),(0.53,15.16),(0.56,15.21),(1.65,13.90),(1.78,13.93),(1.74,14.10),(1.49,14.43),(1.36,15.25),(0.75,15.47),(1.01,15.68),(1.19,15.86),(0.82,15.95),(0.93,16.07),(0.86,16.16),(0.67,16.26),(0.99,16.33),(0.61,16.45),(1.10,16.44),(0.83,16.54),(0.78,16.61),(0.78,16.60),(0.97,16.57),(0.91,16.78),(0.98,16.83),(0.53,16.71),(0.54,16.86),(0.77,16.84),(0.67,16.92),(0.81,16.94),(0.75,17.04),(0.76,17.04),(1.74,16.75),(1.45,17.06),(1.60,17.22),(1.61,17.29),(1.50,17.55),(0.88,17.19),(0.99,17.26),(1.17,17.24),(0.89,17.41),(0.93,17.48),(1.07,17.41),(1.03,17.57),(1.06,17.53),(1.14,17.66),(0.85,17.71),(0.97,17.74),(0.71,17.84),(0.86,17.91),(0.91,17.90),(1.15,17.92),(0.62,18.07),(1.00,18.05),(1.10,18.00),(1.20,18.01),(0.96,18.15),(1.07,18.12),(0.78,18.21),(1.00,18.21),(1.00,18.30),(1.10,18.26),(1.11,18.26),(1.21,18.27),(0.86,18.33),(0.86,18.38),(0.83,18.39),(0.69,18.40),
 (0.92,18.53),(0.96,18.51),(0.97,18.50),(1.02,18.45),(1.02,18.51),(1.06,18.50),(1.07,18.45),(1.08,18.44),(1.12,18.53),(1.14,18.51),(1.18,18.52),(1.17,18.59),(1.21,18.55),(1.30,18.49),(1.32,18.51),(0.87,18.61),(0.95,18.63),(0.98,18.62),(1.00,18.60),(1.08,18.63),(0.93,18.68),(0.97,18.71),(0.91,18.75),(0.75,18.72),(0.34,18.82),(0.92,18.87),(0.93,18.86),(1.26,18.72),(0.88,18.95),(0.84,18.99),(0.70,18.93),(0.75,19.04),(0.94,19.01),(0.95,19.06),(1.00,19.00),(1.02,18.92),(1.08,18.98),(1.10,18.92),(1.19,18.93),(1.18,19.02),(1.37,18.97),(0.87,19.10),(0.88,19.06),(0.97,19.18),(0.98,19.21),(0.99,19.24),(0.92,19.24),(1.00,19.13),(1.03,19.14),(1.05,19.19),(1.08,19.15),(1.09,19.22),(1.13,19.10),(1.31,19.11),(1.35,19.18),(1.36,19.23),(1.37,19.29),(1.23,19.25),(1.24,19.32),(0.87,19.30),(0.93,19.33),(1.01,19.32),(1.08,19.34),(0.95,19.41),(0.95,19.46),(0.92,19.50),(1.01,19.42),(1.07,19.45),(1.08,19.48),(1.11,19.40),(1.14,19.37),(1.19,19.47),(1.24,19.44),(1.32,19.46),(1.35,19.39),(1.54,19.47),(1.60,19.58),(1.44,19.59),(1.51,19.66),(0.93,19.63),(0.97,19.59),(1.03,19.59),(1.03,19.65),(1.06,19.60),(1.10,19.67),(1.12,19.67),(1.26,19.61),(1.28,19.57),(1.27,19.63),(0.99,19.75),(1.01,19.75),(1.02,19.77),(1.06,19.84),(1.08,19.78),(1.09,19.81),(1.10,19.85),(1.13,19.75),(1.20,19.83),(1.27,19.75),(1.32,19.71),(1.42,19.80),
 (1.05,19.97),(1.09,19.96),(1.09,20.05),(1.14,19.91),(1.14,20.00),(1.17,19.94),(1.19,20.05),(1.31,20.00),(1.57,19.99),(1.78,20.04),(0.86,20.11),(0.95,20.16),(0.93,20.21),(1.00,20.10),(1.19,20.14),(1.19,20.24),(1.11,20.25),(1.12,20.25),(1.13,20.23),(1.08,20.24),(1.31,20.23),(1.33,20.14),(1.38,20.27),(0.84,20.34),(1.01,20.35),(1.03,20.41),(0.89,20.45),(1.01,20.51),(1.03,20.57),(1.05,20.65),(0.96,20.55),(1.20,20.42),(1.22,20.39),(1.25,20.45),(1.27,20.40),(1.28,20.37),(1.28,20.28),(1.26,20.53),(1.27,20.57),(1.37,20.43),(1.56,20.43),(1.60,20.34),(1.12,20.56),(1.12,20.61),(1.17,20.56),(1.16,20.63),(1.12,20.72),(1.16,20.75),(1.17,20.75),(1.17,20.78),(1.23,20.75),(1.34,20.77),(1.41,20.62),(1.41,20.79),(1.06,20.83),(1.05,20.93),(1.10,20.86),(1.04,20.98),(0.97,20.95),(1.13,21.00),(1.16,20.95),(1.23,20.90),(1.36,20.88),(1.44,20.90),(1.79,20.78),
]

clusters = [cluster1, cluster2, cluster3]
cmds = [cmd1, cmd2, cmd3]

# ---------------- layout helpers ----------------
# the page body adds an 8 px margin, so the figure is 16 px smaller than the
# window and every screen position is shifted by OFF
OFF = 8
W, H = 1454 - 2 * OFF, 1307 - 2 * OFF
col_px = [(181, 601), (601, 1021), (1021, 1441)]
top_px = (70, 490)
bot_px = (631, 1190)

def px(p):
    return (p - OFF) / W

def py(p):
    return 1 - (p - OFF) / H

def xd(a, b):
    return [px(a), px(b)]

def yd(top, bottom):
    return [py(bottom), py(top)]

SANS = "Liberation Sans, Arial, Helvetica, sans-serif"
SERIF = "DejaVu Serif, serif"

def axis_common(major_len, minor_dtick, minor_len):
    return dict(
        showline=True, linewidth=2, linecolor="black", mirror="ticks",
        ticks="inside", ticklen=major_len, tickwidth=1.6, tickcolor="black",
        showgrid=False, zeroline=False, automargin=False,
        minor=dict(ticks="inside", ticklen=minor_len, tickwidth=1.6,
                   tickcolor="black", dtick=minor_dtick, tick0=0, showgrid=False),
        tickfont=dict(family=SANS, size=33, color="black"),
        tickmode="array",
    )

def star_size(v):
    return max(2.0, 2 + 2 * (20.5 - v))

fig = go.Figure()
field_ra, field_dec = [], []
for rrow, drow in zip(field_ra_rows, field_dec_rows):
    for r, d in zip(rrow, drow):
        field_ra.append(r)
        field_dec.append(d)

layout = dict(width=W, height=H, autosize=False,
              margin=dict(l=0, r=0, t=0, b=0, pad=0),
              paper_bgcolor="white", plot_bgcolor="white",
              showlegend=False)

shapes = []
annotations = []

for i in range(3):
    kt = i + 1
    kb = i + 4
    a, b = col_px[i]
    # ---- top: sky positions ----
    fig.add_trace(go.Scatter(x=field_ra, y=field_dec, mode="markers",
                             marker=dict(size=2.7, color="#1e1e1e", opacity=1, line=dict(width=0)),
                             xaxis=f"x{kt}", yaxis=f"y{kt}", hoverinfo="skip"))
    cl = clusters[i]
    fig.add_trace(go.Scatter(x=[c[0] for c in cl], y=[c[1] for c in cl], mode="markers",
                             marker=dict(size=[star_size(c[2]) for c in cl], color="black",
                                         opacity=1, line=dict(width=0)),
                             xaxis=f"x{kt}", yaxis=f"y{kt}"))
    if i == 0:
        fig.add_trace(go.Scatter(x=[c[0] for c in red_clump1], y=[c[1] for c in red_clump1],
                                 mode="markers",
                                 marker=dict(size=13, color="#ff0000", opacity=1, line=dict(width=0)),
                                 xaxis=f"x{kt}", yaxis=f"y{kt}"))
    xa = axis_common(22, 0.05, 11)
    xa.update(domain=xd(a, b), range=ra_range, tickvals=ra_ticks,
              ticktext=[f"{t:.1f}" for t in ra_ticks], anchor=f"y{kt}",
              ticklabelstandoff=10, ticklabelshift=5)
    ya = axis_common(22, 0.05, 11)
    ya.update(domain=yd(*top_px), range=dec_range, tickvals=dec_ticks,
              ticktext=[f"{t:.1f}" for t in dec_ticks], anchor=f"x{kt}",
              showticklabels=(i == 0), ticklabelstandoff=33, ticklabelshift=7)
    layout[f"xaxis{kt}"] = xa
    layout[f"yaxis{kt}"] = ya

    # ---- bottom: CMD ----
    cm = cmds[i]
    fig.add_trace(go.Scatter(x=[p[0] for p in cm], y=[p[1] for p in cm], mode="markers",
                             marker=dict(symbol="circle-open", size=5.5, color="black",
                                         opacity=1, line=dict(width=1.4)),
                             xaxis=f"x{kb}", yaxis=f"y{kb}"))
    xb = axis_common(23, 0.1, 11)
    xb.update(domain=xd(a, b), range=bv_range, tickvals=bv_ticks,
              ticktext=[f"{t:.1f}" for t in bv_ticks], anchor=f"y{kb}",
              ticklabelstandoff=12, ticklabelshift=-5)
    yb = axis_common(23, 0.5, 11)
    yb.update(domain=yd(*bot_px), range=v_range, tickvals=v_ticks,
              ticktext=[str(t) for t in v_ticks], anchor=f"x{kb}",
              showticklabels=(i == 0), ticklabelstandoff=13)
    layout[f"xaxis{kb}"] = xb
    layout[f"yaxis{kb}"] = yb

    shapes.append(dict(type="rect", xref=f"x{kb}", yref=f"y{kb}",
                       x0=box_bv[0], x1=box_bv[1], y0=box_v[0], y1=box_v[1],
                       line=dict(color="#ff0000", width=2), layer="above"))

    annotations.append(dict(text=panel_titles[i], xref="paper", yref="paper",
                            x=px(a - 9), y=1.0, xanchor="left", yanchor="top",
                            showarrow=False, font=dict(family=SERIF, size=31, color="black")))
    annotations.append(dict(text="RA [deg]", xref="paper", yref="paper",
                            x=px(a + 200), y=py(587), xanchor="center", yanchor="middle",
                            showarrow=False, font=dict(family=SANS, size=34, color="black")))
    annotations.append(dict(text="(B-V)", xref="paper", yref="paper",
                            x=px(a + 201), y=0.0, xanchor="center", yanchor="bottom",
                            showarrow=False, font=dict(family=SANS, size=34, color="black")))

annotations.append(dict(text="DEC  [deg]", xref="paper", yref="paper", x=px(30), y=py(280),
                        xanchor="center", yanchor="middle", textangle=-90, showarrow=False,
                        font=dict(family=SERIF, size=31, color="black")))
annotations.append(dict(text="V", xref="paper", yref="paper", x=px(93), y=py(908),
                        xanchor="center", yanchor="middle", textangle=-90, showarrow=False,
                        font=dict(family=SERIF, size=31, color="black")))

layout["shapes"] = shapes
layout["annotations"] = annotations
fig.update_layout(**layout)
fig.write_html("out.html")
